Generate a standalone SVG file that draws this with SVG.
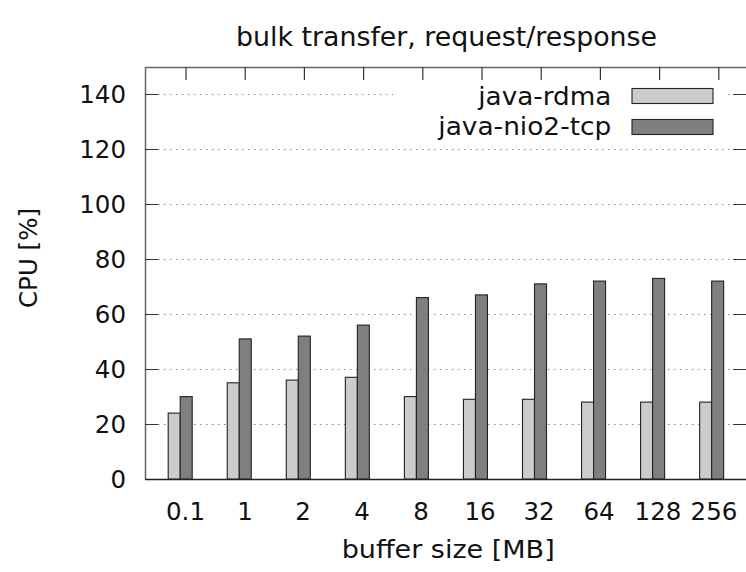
<svg xmlns="http://www.w3.org/2000/svg" width="746" height="572" viewBox="0 0 746 572">
<style>
text{font-family:"DejaVu Sans","Liberation Sans",sans-serif;fill:#111}
.tk{font-size:24.5px}
.yt{text-anchor:end}
.xt{text-anchor:middle}
.grid{stroke:#8a8a8a;stroke-width:1;stroke-dasharray:1.5,4.5;fill:none}
.tick{stroke:#333;stroke-width:1.2;fill:none}
.l{fill:#cccccc;stroke:#222;stroke-width:1.1}
.d{fill:#7f7f7f;stroke:#222;stroke-width:1.1}
</style>
<rect width="746" height="572" fill="#fff"/>
<g id="title"><text x="236" y="46" font-size="26" textLength="421" lengthAdjust="spacingAndGlyphs">bulk transfer, request/response</text></g>
<g id="grid">
<line class="grid" x1="158" y1="424.5" x2="733" y2="424.5"/>
<line class="grid" x1="158" y1="369.5" x2="733" y2="369.5"/>
<line class="grid" x1="158" y1="314.5" x2="733" y2="314.5"/>
<line class="grid" x1="158" y1="259.5" x2="733" y2="259.5"/>
<line class="grid" x1="158" y1="204.5" x2="733" y2="204.5"/>
<line class="grid" x1="158" y1="149.5" x2="733" y2="149.5"/>
<line class="grid" x1="158" y1="94.5" x2="733" y2="94.5"/>
</g>
<g id="frame">
<line x1="145.5" y1="67" x2="145.5" y2="479.5" stroke="#666" stroke-width="1.5"/>
<line x1="145" y1="67.5" x2="746" y2="67.5" stroke="#666" stroke-width="1.3"/>
<line x1="145" y1="479.5" x2="746" y2="479.5" stroke="#222" stroke-width="1.3"/>
<path class="tick" d="M145 424.5h13M145 369.5h13M145 314.5h13M145 259.5h13M145 204.5h13M145 149.5h13M145 94.5h13M733 424.5h13M733 369.5h13M733 314.5h13M733 259.5h13M733 204.5h13M733 149.5h13M733 94.5h13"/>
<path class="tick" d="M186 67v13M245.2 67v13M304.4 67v13M363.6 67v13M422.8 67v13M482 67v13M541.2 67v13M600.4 67v13M659.6 67v13M718.8 67v13"/>
</g>
<g id="legend">
<rect x="393" y="81" width="334" height="62" fill="#fff"/>
<text x="478.3" y="105" font-size="24.5" textLength="133" lengthAdjust="spacingAndGlyphs">java-rdma</text>
<rect class="l" x="632" y="88.5" width="81" height="15"/>
<text x="438.3" y="135" font-size="24.5" textLength="173" lengthAdjust="spacingAndGlyphs">java-nio2-tcp</text>
<rect class="d" x="632" y="119.5" width="81" height="15"/>
</g>
<g id="series-java-rdma">
<rect class="l" x="168.2" y="413.1" width="12" height="65.9"/>
<rect class="l" x="227.25" y="382.8" width="12" height="96.2"/>
<rect class="l" x="286.3" y="380.1" width="12" height="98.9"/>
<rect class="l" x="345.35" y="377.3" width="12" height="101.7"/>
<rect class="l" x="404.4" y="396.6" width="12" height="82.4"/>
<rect class="l" x="463.45" y="399.3" width="12" height="79.7"/>
<rect class="l" x="522.5" y="399.3" width="12" height="79.7"/>
<rect class="l" x="581.55" y="402.1" width="12" height="76.9"/>
<rect class="l" x="640.6" y="402.1" width="12" height="76.9"/>
<rect class="l" x="699.65" y="402.1" width="12" height="76.9"/>
</g>
<g id="series-java-nio2-tcp">
<rect class="d" x="180.2" y="396.6" width="12" height="82.4"/>
<rect class="d" x="239.25" y="338.9" width="12" height="140.1"/>
<rect class="d" x="298.3" y="336.1" width="12" height="142.9"/>
<rect class="d" x="357.35" y="325.1" width="12" height="153.9"/>
<rect class="d" x="416.4" y="297.6" width="12" height="181.4"/>
<rect class="d" x="475.45" y="294.9" width="12" height="184.1"/>
<rect class="d" x="534.5" y="283.9" width="12" height="195.1"/>
<rect class="d" x="593.55" y="281.1" width="12" height="197.9"/>
<rect class="d" x="652.6" y="278.4" width="12" height="200.6"/>
<rect class="d" x="711.65" y="281.1" width="12" height="197.9"/>
</g>
<g id="y-axis" class="tk yt">
<text x="126" y="488">0</text>
<text x="126" y="433">20</text>
<text x="126" y="378">40</text>
<text x="126" y="323">60</text>
<text x="126" y="268">80</text>
<text x="126" y="213">100</text>
<text x="126" y="158">120</text>
<text x="126" y="103">140</text>
</g>
<g id="x-axis" class="tk xt">
<text x="185.5" y="520">0.1</text>
<text x="245" y="520">1</text>
<text x="303" y="520">2</text>
<text x="362" y="520">4</text>
<text x="421" y="520">8</text>
<text x="480" y="520">16</text>
<text x="539" y="520">32</text>
<text x="599" y="520">64</text>
<text x="658" y="520">128</text>
<text x="714" y="520">256</text>
</g>
<g id="axis-titles">
<text x="341.7" y="558" font-size="24.5" textLength="213" lengthAdjust="spacingAndGlyphs">buffer size [MB]</text>
<text transform="translate(37,258) rotate(-90)" font-size="24.5" text-anchor="middle">CPU [%]</text>
</g>
</svg>
